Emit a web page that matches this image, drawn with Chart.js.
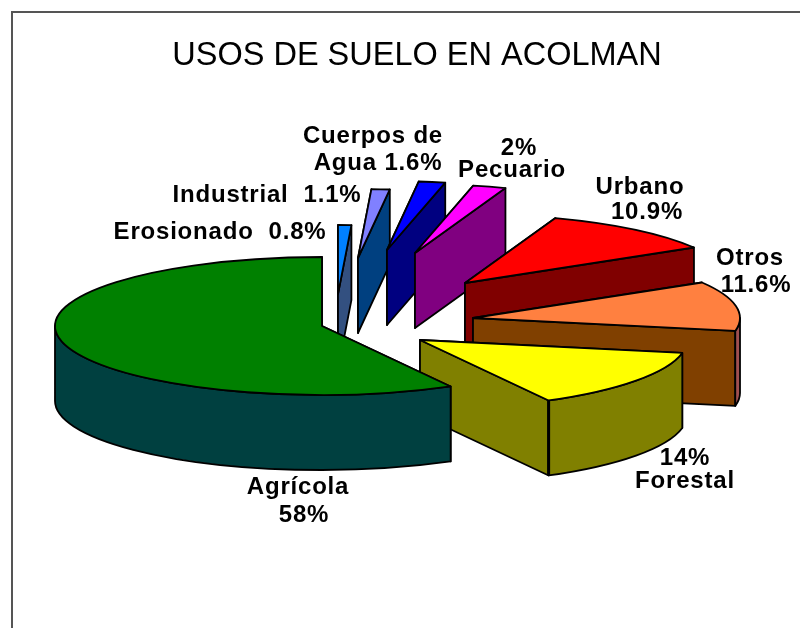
<!DOCTYPE html>
<html>
<head>
<meta charset="utf-8">
<title>Usos de suelo en Acolman</title>
<script src="https://cdn.jsdelivr.net/npm/chart.js@4"></script>
<style>
    html, body { margin: 0; padding: 0; background: #fff; }
    #wrap { width: 800px; height: 628px; overflow: hidden; }
    canvas { display: block; }
</style>
</head>
<body>
<div id="wrap"><canvas id="chart" width="800" height="628"></canvas></div>
<script>
// clockwise from the top of the pie
const categories = ["Erosionado", "Industrial", "Cuerpos de Agua", "Pecuario", "Urbano", "Otros", "Forestal", "Agrícola"];
const values = [0.8, 1.1, 1.6, 2, 10.9, 11.6, 14, 58];

const topColors = ["#0080ff", "#8080ff", "#0000ff", "#ff00ff", "#ff0000", "#ff8040", "#ffff00", "#008000"];
const wallColors = ["#335080", "#004080", "#000080", "#800080", "#800000", "#804000", "#808000", "#004040"];
const rimColors = ["#335080", "#004080", "#000080", "#800080", "#800000", "#a05050", "#808000", "#004040"];

// how far each slice was pulled out of the pie, in px
const explodeX = [16, 36, 65, 93, 143, 151, 98, 0];
const explodeY = [-32, -68, -76, -73, -43, -8, 14, 0];

const labelLines = [
    ["Erosionado  0.8%"],
    ["Industrial  1.1%"],
    ["Cuerpos de", "Agua 1.6%"],
    ["2%", "Pecuario"],
    ["Urbano", "10.9%"],
    ["Otros", "11.6%"],
    ["14%", "Forestal"],
    ["Agrícola", "58%"]
];
const labelX = [[220], [267], [373, 378], [519, 512], [640, 647], [750, 756], [685, 685], [298, 304]];
const labelY = [[232], [195], [136, 163], [148, 170], [187, 212], [258, 285], [458, 481], [487, 515]];

const pieX = 322, pieY = 326, pieRadius = 267;
const squash = 69 / 267, depth = 75;

const framePlugin = {
    id: "frame",
    beforeDraw(chart) {
        const ctx = chart.ctx;
        ctx.save();
        ctx.strokeStyle = "#555";
        ctx.lineWidth = 2;
        ctx.beginPath();
        ctx.moveTo(12, chart.height);
        ctx.lineTo(12, 12);
        ctx.lineTo(chart.width, 12);
        ctx.stroke();
        ctx.restore();
    }
};

function wallPath(ctx, cx, cy, a) {
    const r = pieRadius, ry = pieRadius * squash;
    ctx.beginPath();
    ctx.moveTo(cx, cy);
    ctx.lineTo(cx + Math.cos(a) * r, cy + Math.sin(a) * ry);
    ctx.lineTo(cx + Math.cos(a) * r, cy + Math.sin(a) * ry + depth);
    ctx.lineTo(cx, cy + depth);
    ctx.closePath();
}

// the pie controller works out the angles, this just gives the slices a tilt and a thickness
const pie3dPlugin = {
    id: "pie3d",
    beforeDatasetDraw(chart, args) {
        const ctx = chart.ctx;
        const arcs = args.meta.data;
        const ry = pieRadius * squash;

        ctx.save();
        ctx.lineJoin = "round";
        ctx.strokeStyle = "#000";
        ctx.lineWidth = 1.8;

        arcs.forEach((arc, i) => {
            const cx = pieX + explodeX[i], cy = pieY + explodeY[i];
            const a0 = arc.startAngle, a1 = arc.endAngle;

            // radial walls, the one further back goes first
            const edges = [a0, a1].sort((p, q) => Math.sin(p) - Math.sin(q));
            edges.forEach(a => {
                wallPath(ctx, cx, cy, a);
                ctx.fillStyle = wallColors[i];
                ctx.fill();
                ctx.stroke();
            });

            // outer wall, only the part facing the viewer
            const from = Math.max(a0, 0), to = Math.min(a1, Math.PI);
            if (to > from) {
                ctx.beginPath();
                ctx.ellipse(cx, cy, pieRadius, ry, 0, from, to);
                ctx.ellipse(cx, cy + depth, pieRadius, ry, 0, to, from, true);
                ctx.closePath();
                ctx.fillStyle = rimColors[i];
                ctx.fill();
                ctx.stroke();
            }

            // the front corner of Forestal has a heavy line in the original
            if (categories[i] === "Forestal") {
                const fx = cx + Math.cos(a1) * pieRadius, fy = cy + Math.sin(a1) * ry;
                ctx.save();
                ctx.lineWidth = 3;
                ctx.beginPath();
                ctx.moveTo(fx, fy);
                ctx.lineTo(fx, fy + depth);
                ctx.stroke();
                ctx.restore();
            }

            // top face
            ctx.save();
            ctx.translate(cx, cy);
            ctx.scale(1, squash);
            ctx.translate(-arc.x, -arc.y);
            arc.draw(ctx);
            ctx.restore();

            ctx.beginPath();
            ctx.moveTo(cx, cy);
            ctx.ellipse(cx, cy, pieRadius, ry, 0, a0, a1);
            ctx.closePath();
            ctx.stroke();
        });

        ctx.restore();
        return false;
    }
};

const labelPlugin = {
    id: "sliceLabels",
    afterDraw(chart) {
        const ctx = chart.ctx;
        ctx.save();
        ctx.fillStyle = "#000";
        ctx.font = "bold 24px 'Liberation Sans'";
        ctx.letterSpacing = "0.8px";
        ctx.textAlign = "center";
        ctx.textBaseline = "middle";
        labelLines.forEach((lines, i) => {
            lines.forEach((line, j) => {
                ctx.fillText(line, labelX[i][j], labelY[i][j]);
            });
        });
        ctx.restore();
    }
};

new Chart(document.getElementById("chart"), {
    type: "pie",
    data: {
        labels: categories,
        datasets: [{
            data: values,
            backgroundColor: topColors,
            borderWidth: 0,
            clip: false
        }]
    },
    options: {
        responsive: false,
        animation: false,
        events: [],
        radius: pieRadius,
        layout: { padding: { left: 34 } },
        plugins: {
            legend: { display: false },
            tooltip: { enabled: false },
            title: {
                display: true,
                text: "USOS DE SUELO EN ACOLMAN",
                color: "#000",
                font: { family: "'Liberation Sans'", size: 32.5, weight: "normal" },
                padding: { top: 37, bottom: 10 }
            }
        }
    },
    plugins: [framePlugin, pie3dPlugin, labelPlugin]
});
</script>
</body>
</html>
